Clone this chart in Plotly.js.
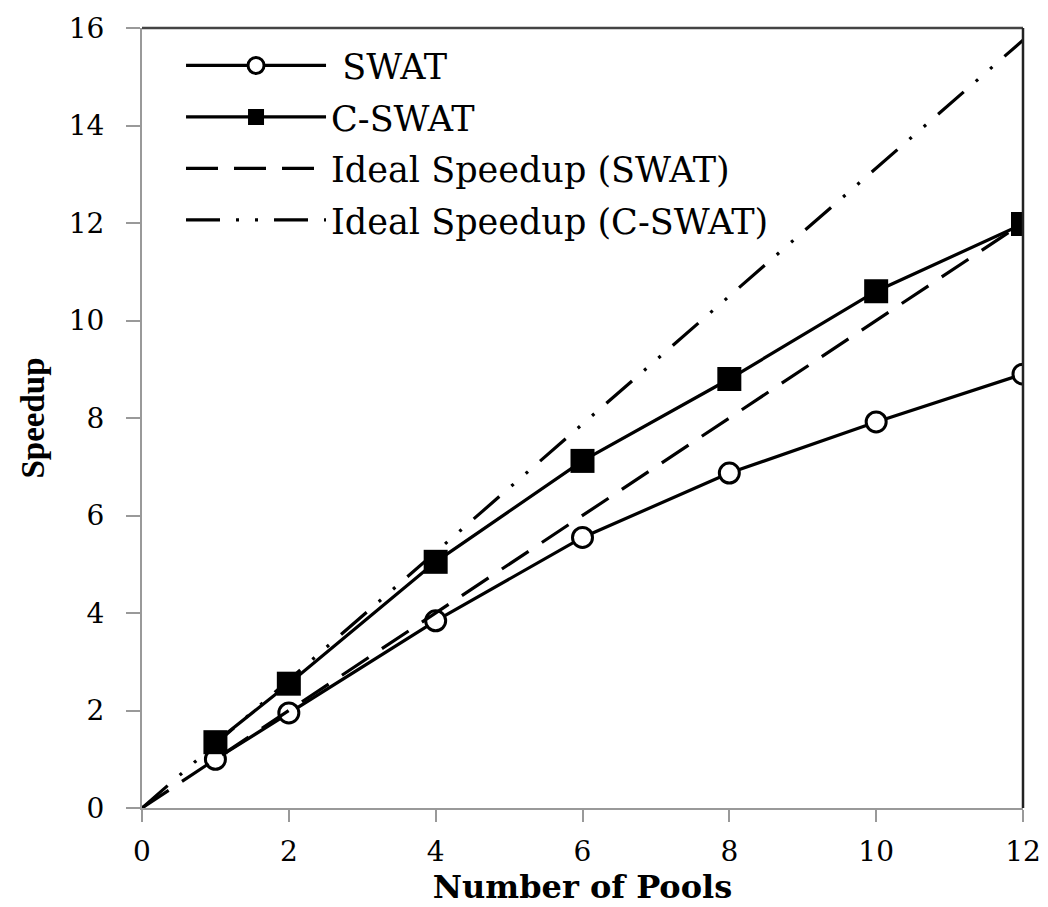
<!DOCTYPE html>
<html>
<head>
<meta charset="utf-8">
<script src="https://cdn.plot.ly/plotly-3.0.1.min.js"></script>
<style>html,body{margin:0;padding:0;background:#fff;}#chart{width:1048px;height:907px;}</style>
</head>
<body>
<div id="chart"></div>
<script>
const pools = [1, 2, 4, 6, 8, 10, 12];
const swat = [1.0, 1.95, 3.84, 5.55, 6.87, 7.92, 8.9];
const cswat = [1.35, 2.55, 5.05, 7.12, 8.8, 10.6, 11.98];
const idealX = [0, 12];
const idealSwat = [0, 12];
const idealCswat = [0, 15.75];
const xTicks = [0, 2, 4, 6, 8, 10, 12];
const yTicks = [0, 2, 4, 6, 8, 10, 12, 14, 16];

const traces = [
  {x: pools, y: swat, name: '\u00a0SWAT', mode: 'lines+markers', legendgroup: 'a',
   line: {color: '#000', width: 3.2},
   marker: {symbol: 'circle', size: 20, color: '#fff', line: {color: '#000', width: 3}}},
  {x: pools, y: cswat, name: 'C-SWAT', mode: 'lines+markers', legendgroup: 'b',
   line: {color: '#000', width: 3.2},
   marker: {symbol: 'square', size: 24, color: '#000', line: {color: '#000', width: 0}}},
  {x: idealX, y: idealSwat, name: 'Ideal Speedup (SWAT)', mode: 'lines', legendgroup: 'c',
   line: {color: '#000', width: 3.2, dash: '32px,16px'}},
  {x: idealX, y: idealCswat, name: 'Ideal Speedup (C-SWAT)', mode: 'lines', legendgroup: 'd',
   line: {color: '#000', width: 3.2, dash: '34px,16px,3px,16px,3px,16px'}}
];

const layout = {
  width: 1048, height: 907,
  margin: {l: 142, r: 25, t: 28, b: 99},
  paper_bgcolor: '#fff', plot_bgcolor: '#fff',
  showlegend: true,
  legend: {x: 0.0443, y: 0.9895, xanchor: 'left', yanchor: 'top',
    bgcolor: 'rgba(0,0,0,0)', borderwidth: 0,
    font: {family: 'DejaVu Serif', size: 35, color: '#000'},
    itemwidth: 140, traceorder: 'grouped', tracegroupgap: 3},
  xaxis: {range: [0, 12], tickvals: xTicks, ticktext: xTicks.map(String),
    showgrid: false, zeroline: false, showline: true, linecolor: '#999', linewidth: 2,
    ticks: 'outside', ticklen: 12, tickcolor: '#999', tickwidth: 2, ticklabelstandoff: 5,
    tickfont: {family: 'DejaVu Serif', size: 28, color: '#000'},
    title: {text: 'Number of Pools', font: {family: 'DejaVu Serif', size: 32, color: '#000', weight: 'bold'}, standoff: 6}},
  yaxis: {range: [0, 16], tickvals: yTicks, ticktext: yTicks.map(String),
    showgrid: false, zeroline: false, showline: true, linecolor: '#999', linewidth: 2,
    ticks: 'outside', ticklen: 14, tickcolor: '#999', tickwidth: 2, ticklabelstandoff: 16,
    tickfont: {family: 'DejaVu Serif', size: 28, color: '#000'},
    title: {text: 'Speedup', font: {family: 'Liberation Serif', size: 33, color: '#000', weight: 'bold'}, standoff: 14}},
  shapes: [
    {type: 'line', xref: 'paper', yref: 'paper', x0: 0, x1: 1, y0: 1, y1: 1, line: {color: '#444', width: 2.5}},
    {type: 'line', xref: 'paper', yref: 'paper', x0: 1, x1: 1, y0: 0, y1: 1, line: {color: '#222', width: 2.5}}
  ]
};

Plotly.newPlot('chart', traces, layout, {displayModeBar: false, staticPlot: true});
</script>
</body>
</html>
